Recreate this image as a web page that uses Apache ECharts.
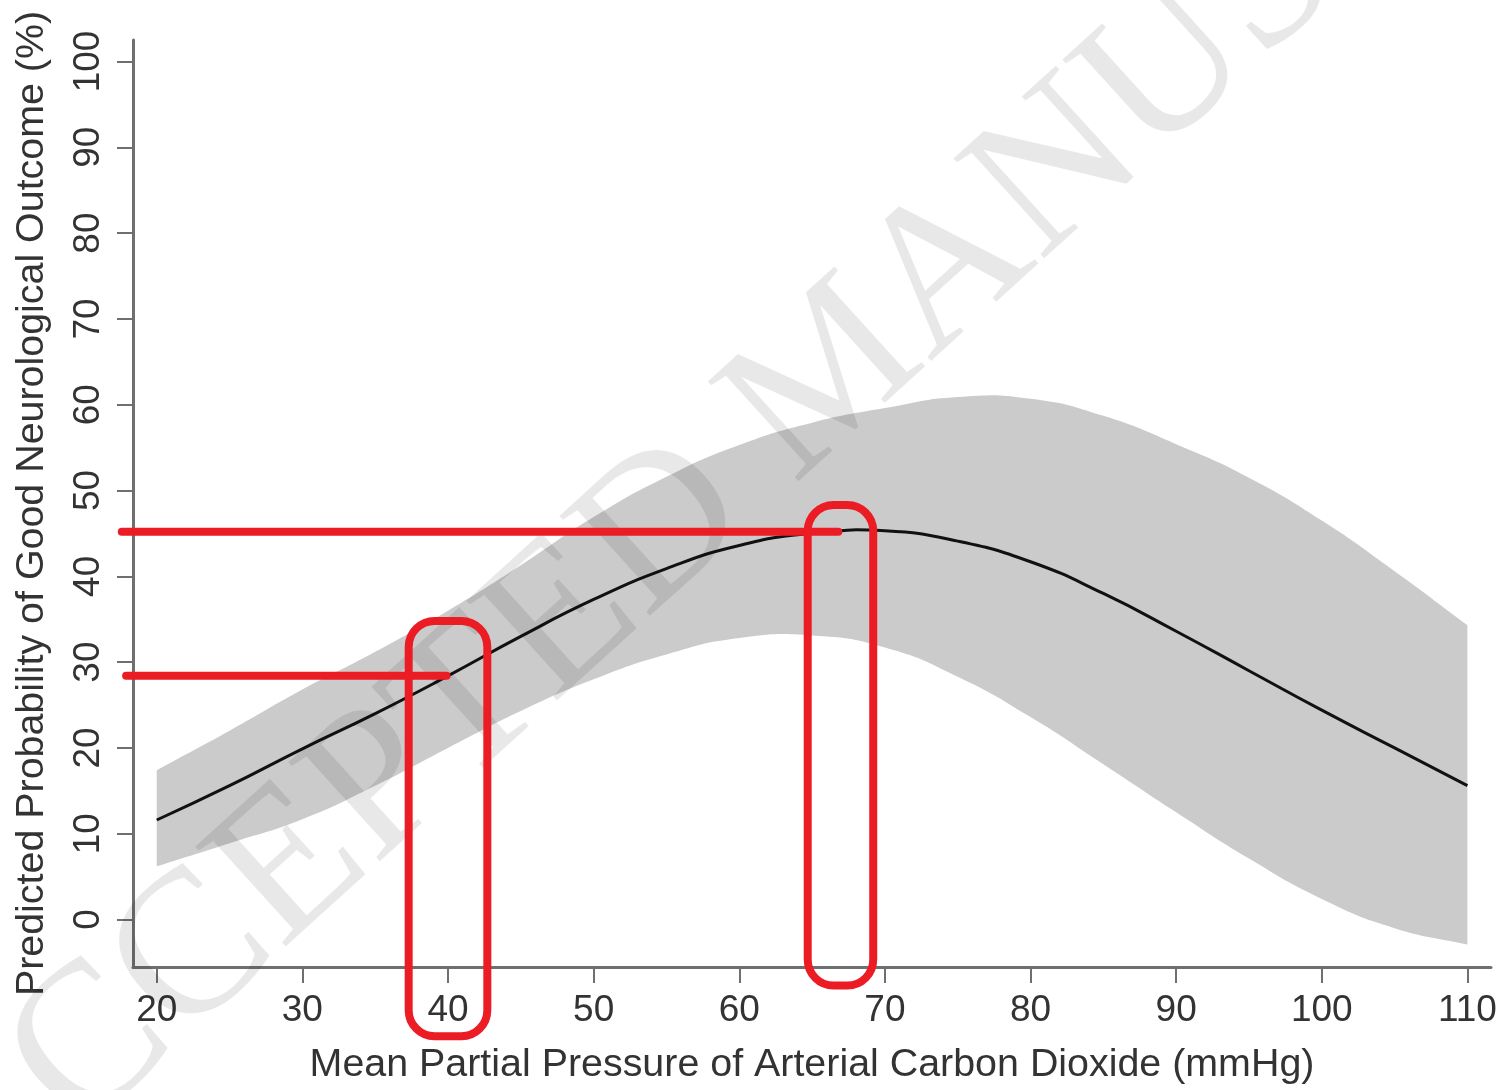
<!DOCTYPE html>
<html>
<head>
<meta charset="utf-8">
<title>Predicted Probability of Good Neurological Outcome</title>
<script src="https://cdn.jsdelivr.net/npm/echarts@6/dist/echarts.min.js"></script>
<style>
    html, body { margin: 0; padding: 0; background: #fff; }
    #main { width: 1502px; height: 1090px; }
</style>
</head>
<body>
<div id="main"></div>
<script type="text/javascript">
    // mean PaCO2 (mmHg)
    var paco2 = [20, 25, 30, 35, 40, 45, 50, 55, 60, 65, 70, 75, 80, 85, 90, 95, 100, 105, 110];
    // predicted probability of good neurological outcome (%)
    var predicted = [11.6, 15.6, 19.9, 24.0, 28.4, 33.0, 37.3, 40.9, 43.6, 45.0, 45.3, 44.1, 41.7, 38.0, 33.6, 29.0, 24.4, 20.0, 15.6];
    var ciLower = [6.2, 8.9, 11.7, 15.6, 20.0, 24.3, 28.0, 30.9, 32.8, 33.1, 31.7, 28.3, 23.6, 18.1, 12.5, 7.1, 2.4, -1.0, -2.9];
    var ciUpper = [17.4, 22.0, 26.8, 31.2, 36.0, 41.3, 46.9, 51.6, 55.3, 57.9, 59.6, 60.9, 60.7, 58.7, 55.4, 51.5, 46.5, 40.6, 34.3];

    var xTicks = [20, 30, 40, 50, 60, 70, 80, 90, 100, 110];
    var yTicks = [0, 10, 20, 30, 40, 50, 60, 70, 80, 90, 100];

    // hand drawn red marks, in data units
    var redLines = [[17.6, 66.8, 45.2], [17.9, 39.9, 28.4]];          // [xFrom, xTo, y]
    var redBoxes = [[37.3, 42.7, 34.8, -13.6], [64.7, 69.2, 48.3, -7.7]]; // [x0, x1, yTop, yBottom]

    var textColor = '#333';
    var axisColor = '#6f6f6f';
    var bandColor = '#cbcbcb';

    var chart = echarts.init(document.getElementById('main'));

    // confidence band: upper edge out, lower edge back (end points doubled so the ends stay square)
    function renderBand(params, api) {
        var up = paco2.map(function (x, i) { return api.coord([x, ciUpper[i]]); });
        var lo = paco2.map(function (x, i) { return api.coord([x, ciLower[i]]); }).reverse();
        var pts = [up[0]].concat(up, [up[up.length - 1]], [lo[0]], lo, [lo[lo.length - 1]]);
        return {
            type: 'polygon',
            shape: { points: pts, smooth: 0.5 },
            style: { fill: bandColor, stroke: null }
        };
    }

    function renderMean(params, api) {
        var pts = paco2.map(function (x, i) { return api.coord([x, predicted[i]]); });
        return {
            type: 'polyline',
            shape: { points: pts, smooth: 0.5 },
            style: { stroke: '#111', lineWidth: 3, fill: null }
        };
    }

    var option = {
        backgroundColor: '#fff',
        animation: false,
        textStyle: { fontFamily: 'Liberation Sans, Arial, sans-serif' },
        grid: { left: 133, right: 11, top: 40, bottom: 121 },
        xAxis: {
            type: 'value',
            min: 18.37,
            max: 111.62,
            z: 3,
            name: 'Mean Partial Pressure of Arterial Carbon Dioxide (mmHg)',
            nameLocation: 'middle',
            nameGap: 79,
            nameTextStyle: { fontSize: 39.4, color: textColor },
            axisLine: { onZero: false, lineStyle: { color: axisColor, width: 3 } },
            axisTick: { customValues: xTicks, length: 16, lineStyle: { color: axisColor, width: 2 } },
            axisLabel: { customValues: xTicks, fontSize: 37, color: textColor, margin: 25 },
            splitLine: { show: false }
        },
        yAxis: {
            type: 'value',
            min: -5.53,
            max: 102.5,
            z: 3,
            name: 'Predicted Probability of Good Neurological Outcome (%)',
            nameLocation: 'middle',
            nameGap: 81,
            nameTextStyle: { fontSize: 39.4, color: textColor },
            axisLine: { show: true, onZero: false, lineStyle: { color: axisColor, width: 3 } },
            axisTick: { show: true, customValues: yTicks, length: 16, lineStyle: { color: axisColor, width: 2 } },
            axisLabel: { customValues: yTicks, rotate: 90, fontSize: 37, color: textColor, margin: 26 },
            splitLine: { show: false }
        },
        series: [
            {
                name: '95% CI',
                type: 'custom',
                renderItem: renderBand,
                data: [0],
                silent: true,
                z: 1
            },
            {
                name: 'Predicted',
                type: 'custom',
                renderItem: renderMean,
                data: [0],
                silent: true,
                z: 5
            }
        ]
    };

    chart.setOption(option);

    // watermark and red marks on top
    function px(x, y) {
        return chart.convertToPixel({ gridIndex: 0 }, [x, y]);
    }

    var elements = [{
        type: 'text',
        x: 836,
        y: 374,
        rotation: 0.737,
        z: 50,
        style: {
            text: 'ACCEPTED MANUSCRIPT',
            fontFamily: 'Liberation Serif, Times New Roman, serif',
            fontSize: 206,
            fill: 'rgba(0,0,0,0.09)',
            align: 'center',
            verticalAlign: 'middle'
        }
    }];

    redLines.forEach(function (l) {
        var a = px(l[0], l[2]), b = px(l[1], l[2]);
        elements.push({
            type: 'line',
            z: 60,
            shape: { x1: a[0], y1: a[1], x2: b[0], y2: b[1] },
            style: { stroke: '#ec1c24', lineWidth: 8, lineCap: 'round' }
        });
    });

    redBoxes.forEach(function (r) {
        var a = px(r[0], r[2]), b = px(r[1], r[3]);
        elements.push({
            type: 'rect',
            z: 60,
            shape: { x: a[0], y: a[1], width: b[0] - a[0], height: b[1] - a[1], r: 26 },
            style: { fill: 'none', stroke: '#ec1c24', lineWidth: 8 }
        });
    });

    chart.setOption({ graphic: { elements: elements } });
</script>
</body>
</html>
